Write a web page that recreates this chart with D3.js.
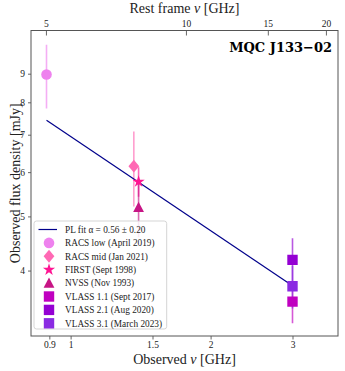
<!DOCTYPE html>
<html><head><meta charset="utf-8">
<script src="https://cdn.jsdelivr.net/npm/d3@7"></script>
<style>
html,body{margin:0;padding:0;background:#fff;}
svg text{font-family:"Liberation Serif","Times New Roman",serif;fill:#222;}
</style></head>
<body>
<svg id="chart" width="345" height="371"></svg>
<script>
// ---- data ----
const surveys = ["RACS low (April 2019)", "RACS mid (Jan 2021)", "FIRST (Sept 1998)", "NVSS (Nov 1993)",
                 "VLASS 1.1 (Sept 2017)", "VLASS 2.1 (Aug 2020)", "VLASS 3.1 (March 2023)"];
const freqGHz = [0.8875, 1.3675, 1.4, 1.4, 3.0, 3.0, 3.0];
const fluxMJy = [8.97, 6.15, 5.77, 5.19, 3.52, 4.18, 3.75];
const fluxErr = [1.17, 0.94, 0.35, 0.60, 0.30, 0.39, 0.33];
const markerShape = ["circle", "diamond", "star", "triangle", "square", "square", "square"];
const markerColor = ["#EE82EE", "#FF69B4", "#FF1493", "#C71585", "#C000C0", "#9400D3", "#8A2BE2"];
const fitFreq = [0.8875, 3.0];
const fitAlpha = 0.56;
const fitNorm = 6.95;        // mJy at 1 GHz
const fitLabel = "PL fit α = 0.56 ± 0.20";
const redshiftFactor = 5.65; // 1+z
const xTicks = [0.9, 1, 1.5, 2, 3];
const topTicks = [5, 10, 15, 20];
const yTicks = [4, 5, 6, 7, 8, 9];
const title = "MQC J133−02";

// ---- layout ----
const svg = d3.select("#chart");
const L = 31, R = 338, T = 30.5, B = 336;
const x = d3.scaleLog().domain([0.8219, 3.758]).range([L, R]);
const y = d3.scaleLog().domain([3.055, 10.753]).range([B, T]);
const xTop = d3.scaleLog().domain([0.8219 * redshiftFactor, 3.758 * redshiftFactor]).range([L, R]);

// marker paths (size in px)
function markerPath(shape, s) {
  const p = d3.path();
  if (shape === "circle") { p.arc(0, 0, s, 0, 2 * Math.PI); }
  else if (shape === "square") { p.rect(-s, -s, 2 * s, 2 * s); }
  else if (shape === "diamond") { p.moveTo(0, -s * 1.2); p.lineTo(s, 0); p.lineTo(0, s * 1.2); p.lineTo(-s, 0); p.closePath(); }
  else if (shape === "triangle") { p.moveTo(0, -s * 1.05); p.lineTo(s, s * 0.85); p.lineTo(-s, s * 0.85); p.closePath(); }
  else if (shape === "star") {
    const ro = s * 1.15, ri = ro * 0.38;
    for (let i = 0; i < 10; i++) {
      const r = i % 2 === 0 ? ro : ri;
      const a = -Math.PI / 2 + i * Math.PI / 5;
      if (i === 0) p.moveTo(r * Math.cos(a), r * Math.sin(a)); else p.lineTo(r * Math.cos(a), r * Math.sin(a));
    }
    p.closePath();
  }
  return p.toString();
}
const markerSize = { circle: 5.3, square: 5.2, diamond: 5.4, triangle: 5.4, star: 5.6 };

const plot = svg.append("g");
plot.append("defs").append("clipPath").attr("id", "clip")
  .append("rect").attr("x", L).attr("y", T).attr("width", R - L).attr("height", B - T);
const inner = plot.append("g").attr("clip-path", "url(#clip)");

// error bars
surveys.forEach((s, i) => {
  inner.append("line")
    .attr("x1", x(freqGHz[i])).attr("x2", x(freqGHz[i]))
    .attr("y1", y(fluxMJy[i] + fluxErr[i])).attr("y2", y(fluxMJy[i] - fluxErr[i]))
    .attr("stroke", markerColor[i]).attr("stroke-opacity", 0.65).attr("stroke-width", 1.6);
});

// fit line
const line = d3.line().x(d => x(d)).y(d => y(fitNorm * Math.pow(d, -fitAlpha)));
inner.append("path").datum(fitFreq).attr("d", line)
  .attr("fill", "none").attr("stroke", "#00008B").attr("stroke-width", 1.2);

// markers
surveys.forEach((s, i) => {
  inner.append("path")
    .attr("d", markerPath(markerShape[i], markerSize[markerShape[i]]))
    .attr("transform", `translate(${x(freqGHz[i])},${y(fluxMJy[i])})`)
    .attr("fill", markerColor[i]);
});

// frame
plot.append("rect").attr("x", L).attr("y", T).attr("width", R - L).attr("height", B - T)
  .attr("fill", "none").attr("stroke", "#555").attr("stroke-width", 1);

// axes
const tickColor = "#555";
const fmt = d => String(d);
const gx = svg.append("g").attr("transform", `translate(0,${B})`)
  .call(d3.axisBottom(x).tickValues(xTicks).tickFormat(fmt).tickSize(3.5).tickPadding(2));
const gt = svg.append("g").attr("transform", `translate(0,${T})`)
  .call(d3.axisTop(xTop).tickValues(topTicks).tickFormat(fmt).tickSize(-5).tickPadding(4));
const gy = svg.append("g").attr("transform", `translate(${L},0)`)
  .call(d3.axisLeft(y).tickValues(yTicks).tickFormat(fmt).tickSize(3).tickPadding(3));
[gx, gt, gy].forEach(g => {
  g.select(".domain").remove();
  g.selectAll(".tick line").attr("stroke", tickColor).attr("stroke-width", 0.9);
  g.selectAll(".tick text").attr("font-size", 9.5).attr("fill", "#333");
});

// axis labels
const xl = svg.append("text").attr("x", (L + R) / 2).attr("y", 364).attr("text-anchor", "middle")
  .attr("font-size", 14);
xl.append("tspan").text("Observed ");
xl.append("tspan").attr("font-style", "italic").text("ν");
xl.append("tspan").text(" [GHz]");
const tl = svg.append("text").attr("x", (L + R) / 2).attr("y", 13).attr("text-anchor", "middle")
  .attr("font-size", 14);
tl.append("tspan").text("Rest frame ");
tl.append("tspan").attr("font-style", "italic").text("ν");
tl.append("tspan").text(" [GHz]");
svg.append("text").attr("transform", `translate(19.5,${(T + B) / 2}) rotate(-90)`)
  .attr("text-anchor", "middle").attr("font-size", 14).text("Observed flux density [mJy]");

// title
svg.append("text").attr("x", 332).attr("y", 51.5).attr("text-anchor", "end")
  .attr("font-weight", "bold").attr("font-size", 13)
  .style("fill", "#000").style("font-family", "'DejaVu Serif'").text(title);

// legend
const lg = svg.append("g");
const lgX = 34, lgY = 221, lgW = 132.7, lgH = 108, rowH = 13.4, row0 = 229.5;
lg.append("rect").attr("x", lgX).attr("y", lgY).attr("width", lgW).attr("height", lgH)
  .attr("rx", 2.5).attr("fill", "#fff").attr("fill-opacity", 0.85)
  .attr("stroke", "#d0d0d0").attr("stroke-width", 0.9);
const labels = [fitLabel].concat(surveys);
labels.forEach((lab, k) => {
  const cy = row0 + k * rowH;
  if (k === 0) {
    lg.append("line").attr("x1", 38.5).attr("x2", 57).attr("y1", cy).attr("y2", cy)
      .attr("stroke", "#00008B").attr("stroke-width", 1.2);
  } else {
    const i = k - 1;
    lg.append("path").attr("d", markerPath(markerShape[i], markerSize[markerShape[i]]))
      .attr("transform", `translate(49,${cy})`).attr("fill", markerColor[i]);
  }
  lg.append("text").attr("x", 65).attr("y", cy + 3.2).attr("font-size", 9.3).text(lab);
});
</script>
</body></html>
